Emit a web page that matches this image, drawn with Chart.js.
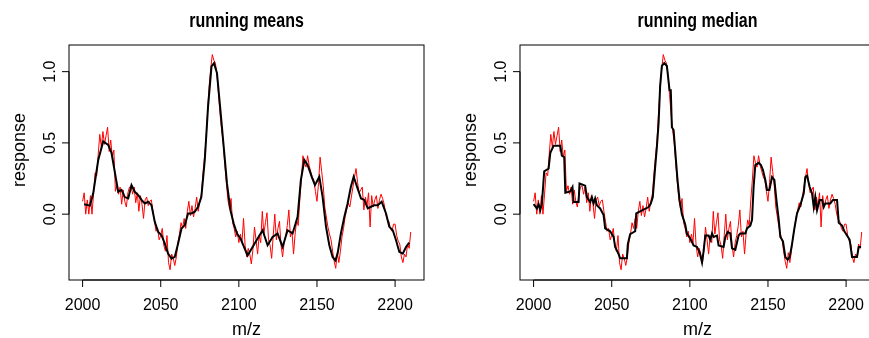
<!DOCTYPE html>
<html lang="en">
<head>
<meta charset="UTF-8">
<title>running means / running median</title>
<script src="https://cdn.jsdelivr.net/npm/chart.js"></script>
<style>
  html, body { margin: 0; padding: 0; background: #fff; overflow: hidden; }
  .panel { position: absolute; top: 0; width: 451px; height: 338px; }
  #left { left: 0; }
  #right { left: 451px; }
</style>
</head>
<body>
<div class="panel" id="left"><canvas id="meanChart" width="451" height="338"></canvas></div>
<div class="panel" id="right"><canvas id="medianChart" width="451" height="338"></canvas></div>

<script>
// raw spectrum, one value per m/z unit starting at rawStart
const rawStart = 2000;
const rawResp = [
  0.09, 0.15, 0.00, 0.10, 0.00, 0.13, 0.00, 0.14, 0.29, 0.27,
  0.42, 0.56, 0.47, 0.58, 0.49, 0.55, 0.61, 0.44, 0.52, 0.40,
  0.45, 0.16, 0.20, 0.14, 0.19, 0.07, 0.17, 0.09, 0.05, 0.15,
  0.19, 0.20, 0.14, 0.19, 0.08, 0.15, 0.02, 0.13, 0.07, -0.03,
  0.10, 0.12, 0.06, 0.09, 0.10, 0.02, -0.05, -0.12, -0.10, -0.18,
  -0.15, -0.10, -0.22, -0.26, -0.15, -0.34, -0.39, -0.28, -0.31, -0.36,
  -0.30, -0.20, -0.14, -0.06, -0.10, -0.03, -0.10, 0.02, 0.09, -0.01,
  0.06, -0.02, 0.04, 0.12, 0.02, 0.09, 0.14, 0.28, 0.40, 0.52,
  0.72, 0.90, 1.02, 1.12, 1.08, 1.06, 0.98, 0.84, 0.70, 0.59,
  0.50, 0.35, 0.22, 0.10, 0.04, 0.11, -0.06, -0.10, -0.16, -0.12,
  -0.20, -0.14, -0.20, -0.03, -0.22, -0.30, -0.24, -0.28, -0.35, -0.25,
  -0.09, -0.18, -0.28, -0.15, -0.20, 0.02, -0.14, -0.06, 0.01, -0.18,
  -0.22, -0.31, -0.15, 0.00, -0.18, -0.10, -0.05, -0.22, -0.30, -0.20,
  -0.15, -0.08, 0.03, -0.16, -0.12, -0.28, -0.14, -0.04, -0.08, 0.10,
  0.24, 0.41, 0.36, 0.33, 0.41, 0.34, 0.30, 0.26, 0.24, 0.16,
  0.09, 0.22, 0.40, 0.30, 0.20, 0.05, -0.02, -0.09, -0.14, -0.18,
  -0.26, -0.33, -0.38, -0.27, -0.34, -0.26, -0.16, -0.10, -0.02, 0.03,
  0.08, 0.05, 0.12, 0.19, 0.26, 0.32, 0.22, 0.15, 0.17, 0.19,
  0.03, 0.12, 0.06, 0.15, -0.09, 0.13, 0.05, 0.10, 0.13, 0.04,
  0.10, 0.14, 0.11, 0.07, 0.00, -0.04, -0.05, -0.10, -0.12, -0.07,
  -0.07, -0.15, -0.19, -0.21, -0.30, -0.34, -0.28, -0.30, -0.21, -0.24,
  -0.125
];

// running mean curve
const meanMz = [
  2001, 2004.7, 2006.8, 2010, 2013.2, 2016.4, 2018.5, 2020.7, 2022.8, 2024.9,
  2027, 2029.2, 2031.3, 2033.4, 2035.6, 2037.7, 2039.8, 2042, 2044.1, 2046.2,
  2048.4, 2050.5, 2052.6, 2054.7, 2056.9, 2059, 2061.1, 2063.3, 2065.4, 2067.5,
  2069.7, 2071.8, 2073.9, 2076, 2078.2, 2080.3, 2082.5, 2084.1, 2086, 2088.2,
  2090.3, 2092.4, 2094.6, 2096.7, 2098.8, 2101, 2102.4, 2105.6, 2108.8, 2112,
  2115.2, 2118.4, 2121.6, 2124.8, 2128, 2131.2, 2134.4, 2137.6, 2139.7, 2141.9,
  2144, 2146.6, 2148.7, 2151.5, 2153.6, 2155.8, 2157.9, 2160, 2161.8, 2163.2,
  2165.3, 2167.5, 2169.6, 2171.7, 2173.5, 2175.6, 2178.2, 2180.3, 2182.5, 2184.6,
  2186.7, 2188.9, 2191.4, 2194.2, 2196.3, 2198.5, 2200.6, 2202.7, 2204.9, 2207,
  2209
];
const meanResp = [
  0.07, 0.06, 0.146, 0.38, 0.51, 0.486, 0.43, 0.29, 0.157, 0.17,
  0.12, 0.11, 0.204, 0.157, 0.134, 0.10, 0.075, 0.087, 0.063, -0.054,
  -0.125, -0.148, -0.207, -0.277, -0.312, -0.30, -0.207, -0.10, -0.077, 0.005,
  0.005, 0.017, 0.052, 0.12, 0.38, 0.756, 1.037, 1.06, 0.99, 0.73,
  0.474, 0.216, 0.028, -0.066, -0.136, -0.17, -0.207, -0.29, -0.23, -0.171,
  -0.113, -0.218, -0.16, -0.136, -0.23, -0.113, -0.136, -0.019, 0.24, 0.38,
  0.345, 0.263, 0.204, 0.263, 0.122, -0.089, -0.218, -0.30, -0.324, -0.277,
  -0.136, -0.019, 0.075, 0.192, 0.263, 0.192, 0.11, 0.10, 0.04, 0.052,
  0.063, 0.063, 0.087, 0.005, -0.089, -0.113, -0.183, -0.265, -0.277, -0.23,
  -0.20
];

// running median curve
const medianMz = [
  2000, 2002.1, 2003.2, 2004.3, 2005.3, 2006.8, 2008.1, 2009.6, 2010.7, 2012.8,
  2017.1, 2018.1, 2019.6, 2020.3, 2023.5, 2024.9, 2025.6, 2028.8, 2029.4, 2033,
  2034.1, 2036.2, 2037.3, 2038.4, 2039.4, 2040.5, 2042.6, 2044.8, 2045.8, 2049,
  2051.2, 2052.2, 2054.4, 2055.4, 2059.7, 2060.3, 2061.8, 2065, 2065.7, 2073.6,
  2075, 2076.3, 2077.8, 2078.9, 2080, 2081, 2082.1, 2083.6, 2085.3, 2087,
  2087.8, 2088.5, 2089.6, 2090.6, 2092.1, 2093.4, 2094.9, 2097, 2098.1, 2100.3,
  2102.4, 2104.6, 2106.3, 2107.8, 2108.8, 2109.9, 2112, 2113.1, 2114.2, 2115.2,
  2117.4, 2118.4, 2121.6, 2122.7, 2124.2, 2125.9, 2127, 2129.1, 2131.2, 2132.3,
  2135.5, 2136.6, 2138.7, 2139.8, 2140.8, 2141.9, 2144.1, 2145.5, 2146.8, 2148.3,
  2149.4, 2150.9, 2152.6, 2154.1, 2155.4, 2156.9, 2157.9, 2159.6, 2161.1, 2162.6,
  2163.9, 2165.4, 2166.9, 2168.6, 2170.7, 2172.9, 2173.9, 2175, 2176.7, 2178.2,
  2179.3, 2180.3, 2181.4, 2183.1, 2184.6, 2185.7, 2186.7, 2189.9, 2191.6, 2194.2,
  2195.3, 2197.4, 2198.9, 2200.6, 2202.3, 2203.8, 2207, 2208.1, 2209.6
];
const medianResp = [
  0.07, 0.04, 0.07, 0.03, 0.07, 0.30, 0.31, 0.32, 0.43, 0.48,
  0.48, 0.41, 0.40, 0.15, 0.16, 0.19, 0.085, 0.085, 0.215, 0.20,
  0.12, 0.085, 0.12, 0.075, 0.11, 0.063, 0.04, -0.006, -0.10, -0.12,
  -0.16, -0.23, -0.28, -0.31, -0.31, -0.21, -0.14, -0.12, 0.005, 0.05,
  0.075, 0.12, 0.33, 0.47, 0.64, 0.90, 1.04, 1.06, 1.04, 0.87,
  0.87, 0.61, 0.59, 0.45, 0.24, 0.10, 0.0, -0.07, -0.136, -0.17,
  -0.22, -0.23, -0.27, -0.34, -0.26, -0.15, -0.15, -0.18, -0.135, -0.16,
  -0.15, -0.22, -0.23, -0.16, -0.125, -0.135, -0.24, -0.25, -0.15, -0.135,
  -0.135, -0.10, -0.08, -0.04, 0.19, 0.345, 0.36, 0.345, 0.31, 0.24,
  0.17, 0.17, 0.26, 0.24, 0.10, -0.04, -0.16, -0.19, -0.30, -0.32,
  -0.30, -0.21, -0.10, 0.005, 0.063, 0.146, 0.26, 0.27, 0.19, 0.146,
  0.05, 0.12, 0.028, 0.10, 0.10, 0.05, 0.075, 0.075, 0.10, 0.10,
  -0.06, -0.08, -0.12, -0.15, -0.18, -0.30, -0.30, -0.23, -0.23
];

const xTicks = [2000, 2050, 2100, 2150, 2200];
const yTicks = [0.0, 0.5, 1.0];
const yTickLabels = ['0.0', '0.5', '1.0'];

const FONT = '"Liberation Sans", Arial, Helvetica, sans-serif';

function toPoints(xs, ys) {
  return ys.map((y, i) => ({ x: xs[i], y: y }));
}
const rawPoints = rawResp.map((y, i) => ({ x: rawStart + i, y: y }));

// base-graphics style frame: box, axes with outward ticks, titles
const baseFrame = {
  id: 'baseFrame',
  afterDraw(chart, args, opts) {
    const ctx = chart.ctx;
    const a = chart.chartArea;
    const xs = chart.scales.x;
    const ys = chart.scales.y;
    const midX = (a.left + a.right) / 2;
    ctx.save();
    ctx.strokeStyle = '#000';
    ctx.lineWidth = 1;
    ctx.strokeRect(a.left, a.top, a.right - a.left, a.bottom - a.top);

    // x axis
    const x0 = xs.getPixelForValue(xTicks[0]);
    const x1 = xs.getPixelForValue(xTicks[xTicks.length - 1]);
    ctx.beginPath();
    ctx.moveTo(x0, a.bottom);
    ctx.lineTo(x1, a.bottom);
    xTicks.forEach(t => {
      const px = xs.getPixelForValue(t);
      ctx.moveTo(px, a.bottom);
      ctx.lineTo(px, a.bottom + 7);
    });
    // y axis
    const y0 = ys.getPixelForValue(yTicks[0]);
    const y1 = ys.getPixelForValue(yTicks[yTicks.length - 1]);
    ctx.moveTo(a.left, y0);
    ctx.lineTo(a.left, y1);
    yTicks.forEach(t => {
      const py = ys.getPixelForValue(t);
      ctx.moveTo(a.left, py);
      ctx.lineTo(a.left - 7, py);
    });
    ctx.stroke();

    ctx.fillStyle = '#000';
    ctx.font = '16px ' + FONT;
    ctx.textAlign = 'center';
    ctx.textBaseline = 'alphabetic';
    xTicks.forEach(t => ctx.fillText(String(t), xs.getPixelForValue(t), 310));

    yTicks.forEach((t, i) => {
      ctx.save();
      ctx.translate(a.left - 14, ys.getPixelForValue(t));
      ctx.rotate(-Math.PI / 2);
      ctx.fillText(yTickLabels[i], 0, 0);
      ctx.restore();
    });

    ctx.font = '18px ' + FONT;
    ctx.fillText('m/z', midX, 335);
    ctx.save();
    ctx.translate(a.left - 44, 150);
    ctx.rotate(-Math.PI / 2);
    ctx.fillText('response', 0, 0);
    ctx.restore();

    // main title, a little narrower than the regular face
    ctx.save();
    ctx.translate(midX, 27);
    ctx.scale(0.8, 1);
    ctx.font = 'bold 20px ' + FONT;
    ctx.fillText(opts.title, 0, 0);
    ctx.restore();
    ctx.restore();
  }
};

function makePanel(canvasId, title, smoothX, smoothY) {
  new Chart(document.getElementById(canvasId), {
    type: 'line',
    data: {
      datasets: [
        {
          data: toPoints(smoothX, smoothY),
          borderColor: '#000000',
          borderWidth: 2,
          pointRadius: 0,
          tension: 0,
          order: 0
        },
        {
          data: rawPoints,
          borderColor: '#ff0000',
          borderWidth: 1,
          pointRadius: 0,
          tension: 0,
          order: 1
        }
      ]
    },
    options: {
      responsive: false,
      animation: false,
      events: [],
      layout: { padding: { left: 69, right: 27, top: 45, bottom: 58 } },
      plugins: {
        legend: { display: false },
        tooltip: { enabled: false },
        baseFrame: { title: title }
      },
      scales: {
        x: { type: 'linear', min: 1991.3, max: 2218.5, display: false },
        y: { type: 'linear', min: -0.462, max: 1.187, display: false }
      }
    },
    plugins: [baseFrame]
  });
}

makePanel('meanChart', 'running means', meanMz, meanResp);
makePanel('medianChart', 'running median', medianMz, medianResp);
</script>
</body>
</html>
